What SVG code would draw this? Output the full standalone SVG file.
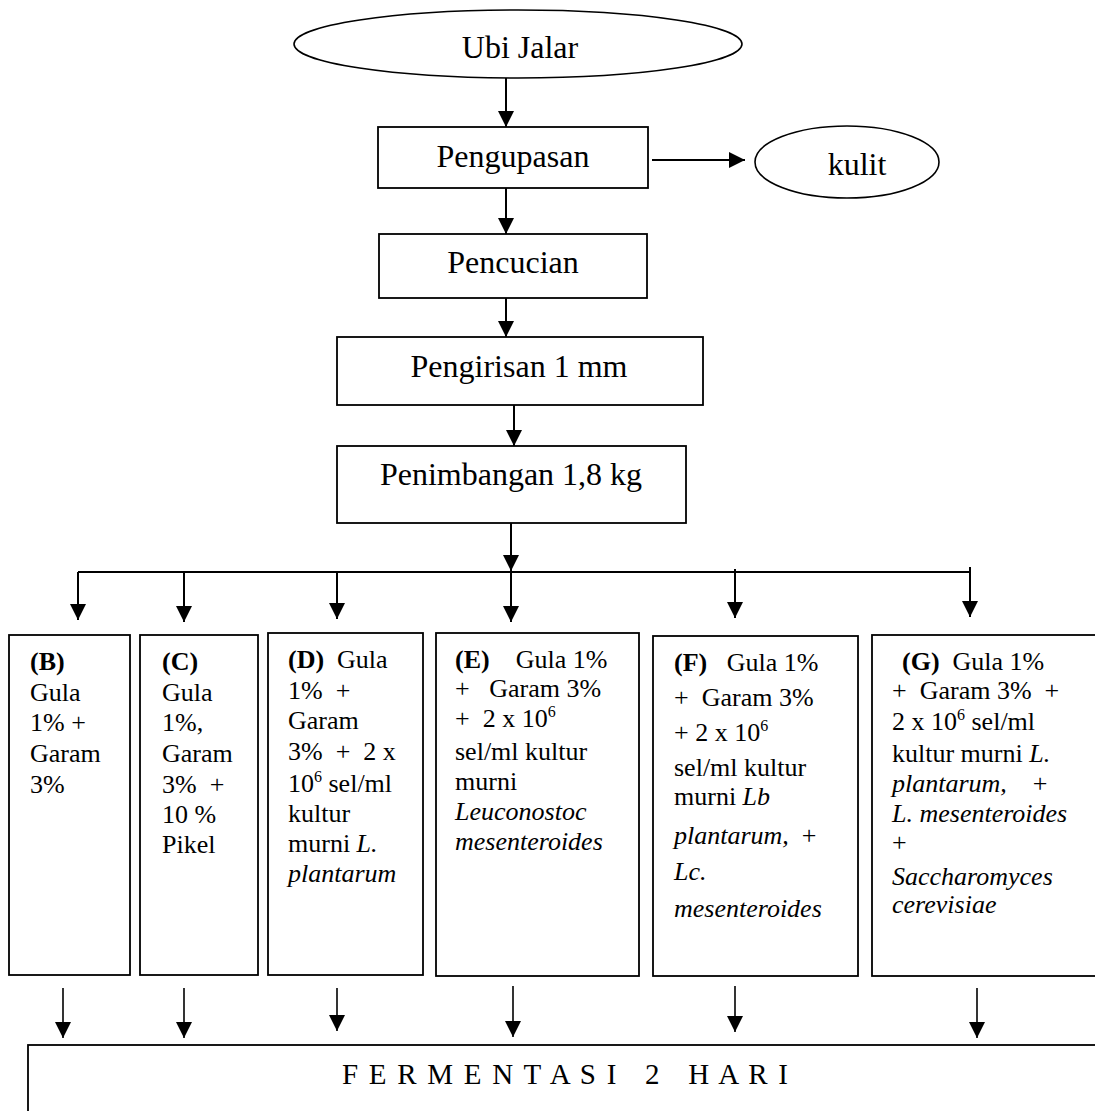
<svg xmlns="http://www.w3.org/2000/svg" width="1095" height="1111" viewBox="0 0 1095 1111">
  <style>
    .shape { fill: #ffffff; stroke: #000000; stroke-width: 1.8; }
    .ell { fill: #ffffff; stroke: #000000; stroke-width: 1.6; }
    .link { stroke: #000000; stroke-width: 2; fill: none; }
    .thin { stroke: #000000; stroke-width: 1.6; fill: none; }
    .title { font-family: "Liberation Serif", "Times New Roman", serif; font-size: 32px; fill: #000000; text-anchor: middle; }
    .body { font-family: "Liberation Serif", "Times New Roman", serif; font-size: 26px; fill: #000000; white-space: pre; }
    .b { font-weight: bold; }
    .i { font-style: italic; }
    .sup { font-size: 16px; }
    .wide { font-family: "Liberation Serif", "Times New Roman", serif; font-size: 29px; fill: #000000; white-space: pre; }
  </style>
  <defs>
    <marker id="head" markerUnits="userSpaceOnUse" markerWidth="16" markerHeight="16" viewBox="0 0 16 16" refX="16" refY="8" orient="auto">
      <path d="M0,0 L16,8 L0,16 z" fill="#000000"/>
    </marker>
  </defs>

  <rect width="1095" height="1111" fill="#ffffff"/>

  <!-- connectors -->
  <g id="connectors">
    <line class="link" x1="506" y1="78" x2="506" y2="127" marker-end="url(#head)"/>
    <line class="link" x1="652" y1="160" x2="745" y2="160" marker-end="url(#head)"/>
    <line class="link" x1="506" y1="188" x2="506" y2="234" marker-end="url(#head)"/>
    <line class="link" x1="506" y1="298" x2="506" y2="337" marker-end="url(#head)"/>
    <line class="link" x1="514" y1="405" x2="514" y2="446" marker-end="url(#head)"/>
    <line class="link" x1="511" y1="523" x2="511" y2="571" marker-end="url(#head)"/>
    <!-- distribution bar -->
    <line class="link" x1="78" y1="572" x2="970" y2="572"/>
    <line class="link" x1="78" y1="572" x2="78" y2="620" marker-end="url(#head)"/>
    <line class="link" x1="184" y1="572" x2="184" y2="622" marker-end="url(#head)"/>
    <line class="link" x1="337" y1="572" x2="337" y2="619" marker-end="url(#head)"/>
    <line class="link" x1="511" y1="572" x2="511" y2="622" marker-end="url(#head)"/>
    <line class="link" x1="735" y1="569" x2="735" y2="618" marker-end="url(#head)"/>
    <line class="link" x1="970" y1="567" x2="970" y2="617" marker-end="url(#head)"/>
    <!-- into fermentation -->
    <line class="thin" x1="63" y1="988" x2="63" y2="1038" marker-end="url(#head)"/>
    <line class="thin" x1="184" y1="988" x2="184" y2="1038" marker-end="url(#head)"/>
    <line class="thin" x1="337" y1="988" x2="337" y2="1031" marker-end="url(#head)"/>
    <line class="thin" x1="513" y1="986" x2="513" y2="1037" marker-end="url(#head)"/>
    <line class="thin" x1="735" y1="986" x2="735" y2="1032" marker-end="url(#head)"/>
    <line class="thin" x1="977" y1="988" x2="977" y2="1038" marker-end="url(#head)"/>
  </g>

  <g id="ubi-jalar">
    <ellipse class="ell" cx="518" cy="44" rx="224" ry="34"/>
    <text class="title" x="520" y="58">Ubi Jalar</text>
  </g>

  <g id="pengupasan">
    <rect class="shape" x="378" y="127" width="270" height="61"/>
    <text class="title" x="513" y="167">Pengupasan</text>
  </g>

  <g id="kulit">
    <ellipse class="ell" cx="847" cy="162" rx="92" ry="36"/>
    <text class="title" x="857" y="175">kulit</text>
  </g>

  <g id="pencucian">
    <rect class="shape" x="379" y="234" width="268" height="64"/>
    <text class="title" x="513" y="273">Pencucian</text>
  </g>

  <g id="pengirisan">
    <rect class="shape" x="337" y="337" width="366" height="68"/>
    <text class="title" x="519" y="377">Pengirisan 1 mm</text>
  </g>

  <g id="penimbangan">
    <rect class="shape" x="337" y="446" width="349" height="77"/>
    <text class="title" x="511" y="485">Penimbangan 1,8 kg</text>
  </g>

  <g id="perlakuan-b">
    <rect class="shape" x="9" y="635" width="121" height="340"/>
    <text class="body b" x="30" y="670">(B)</text>
    <text class="body" x="30" y="701">Gula</text>
    <text class="body" x="30" y="731">1% +</text>
    <text class="body" x="30" y="762">Garam</text>
    <text class="body" x="30" y="793">3%</text>
  </g>

  <g id="perlakuan-c">
    <rect class="shape" x="140" y="635" width="118" height="340"/>
    <text class="body b" x="162" y="670">(C)</text>
    <text class="body" x="162" y="701">Gula</text>
    <text class="body" x="162" y="731">1%,</text>
    <text class="body" x="162" y="762">Garam</text>
    <text class="body" x="162" y="793">3%  +</text>
    <text class="body" x="162" y="823">10 %</text>
    <text class="body" x="162" y="853">Pikel</text>
  </g>

  <g id="perlakuan-d">
    <rect class="shape" x="268" y="633" width="155" height="342"/>
    <text class="body" x="288" y="668"><tspan class="b">(D)</tspan>  Gula</text>
    <text class="body" x="288" y="699">1%  +</text>
    <text class="body" x="288" y="729">Garam</text>
    <text class="body" x="288" y="760">3%  +  2 x</text>
    <text class="body" x="288" y="792">10<tspan class="sup" dy="-10">6</tspan><tspan dy="10"> sel/ml</tspan></text>
    <text class="body" x="288" y="822">kultur</text>
    <text class="body" x="288" y="852">murni <tspan class="i">L.</tspan></text>
    <text class="body i" x="288" y="882">plantarum</text>
  </g>

  <g id="perlakuan-e">
    <rect class="shape" x="436" y="633" width="203" height="343"/>
    <text class="body" x="455" y="668"><tspan class="b">(E)</tspan>    Gula 1%</text>
    <text class="body" x="455" y="697">+   Garam 3%</text>
    <text class="body" x="455" y="727">+  2 x 10<tspan class="sup" dy="-10">6</tspan></text>
    <text class="body" x="455" y="760">sel/ml kultur</text>
    <text class="body" x="455" y="790">murni</text>
    <text class="body i" x="455" y="820">Leuconostoc</text>
    <text class="body i" x="455" y="850">mesenteroides</text>
  </g>

  <g id="perlakuan-f">
    <rect class="shape" x="653" y="636" width="205" height="340"/>
    <text class="body" x="674" y="671"><tspan class="b">(F)</tspan>   Gula 1%</text>
    <text class="body" x="674" y="706">+  Garam 3%</text>
    <text class="body" x="674" y="741">+ 2 x 10<tspan class="sup" dy="-10">6</tspan></text>
    <text class="body" x="674" y="776">sel/ml kultur</text>
    <text class="body" x="674" y="805">murni <tspan class="i">Lb</tspan></text>
    <text class="body" x="674" y="844"><tspan class="i">plantarum,</tspan>  +</text>
    <text class="body i" x="674" y="880">Lc.</text>
    <text class="body i" x="674" y="917">mesenteroides</text>
  </g>

  <g id="perlakuan-g">
    <rect class="shape" x="872" y="635" width="240" height="341"/>
    <text class="body" x="902" y="670"><tspan class="b">(G)</tspan>  Gula 1%</text>
    <text class="body" x="892" y="699">+  Garam 3%  +</text>
    <text class="body" x="892" y="730">2 x 10<tspan class="sup" dy="-10">6</tspan><tspan dy="10"> sel/ml</tspan></text>
    <text class="body" x="892" y="762">kultur murni <tspan class="i">L.</tspan></text>
    <text class="body" x="892" y="792"><tspan class="i">plantarum,</tspan>    +</text>
    <text class="body i" x="892" y="822">L. mesenteroides</text>
    <text class="body" x="892" y="851">+</text>
    <text class="body i" x="892" y="885">Saccharomyces</text>
    <text class="body i" x="892" y="913">cerevisiae</text>
  </g>

  <g id="fermentasi">
    <rect class="shape" x="28" y="1045" width="1100" height="120"/>
    <text class="wide" x="342" y="1084" textLength="446" lengthAdjust="spacing">F E R M E N T A S I   2   H A R I</text>
  </g>
</svg>
